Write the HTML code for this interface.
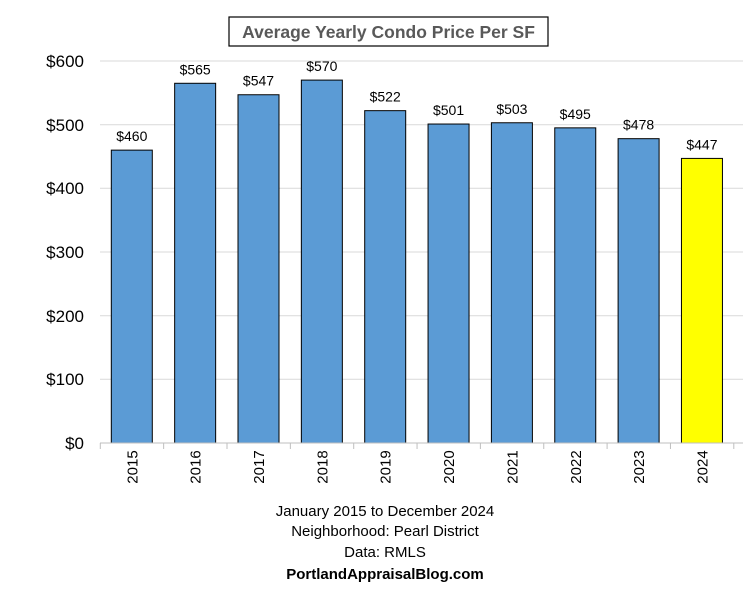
<!DOCTYPE html><html><head><style>body{margin:0;background:#fff}</style></head><body>
<svg width="749" height="600" xmlns="http://www.w3.org/2000/svg" font-family="Liberation Sans, Arial, sans-serif">
<rect x="229" y="17" width="319" height="29" fill="#fff" stroke="#000" stroke-width="1.2"/>
<text x="388.5" y="38" text-anchor="middle" font-size="17.5" font-weight="bold" fill="#595959">Average Yearly Condo Price Per SF</text>
<g stroke="#d9d9d9" stroke-width="1">
<line x1="100" x2="743" y1="61" y2="61"/><line x1="100" x2="743" y1="124.7" y2="124.7"/><line x1="100" x2="743" y1="188.3" y2="188.3"/><line x1="100" x2="743" y1="252" y2="252"/><line x1="100" x2="743" y1="315.7" y2="315.7"/><line x1="100" x2="743" y1="379.3" y2="379.3"/>
</g>
<g font-size="17" text-anchor="end" fill="#000">
<text x="84" y="67">$600</text><text x="84" y="131">$500</text><text x="84" y="194">$400</text><text x="84" y="258">$300</text><text x="84" y="322">$200</text><text x="84" y="385">$100</text><text x="84" y="449">$0</text>
</g>
<g id="bars" stroke="#000" stroke-width="1">
</g>
<line x1="100" x2="743" y1="443" y2="443" stroke="#bfbfbf"/>
<g id="ticks" stroke="#bfbfbf"></g>
<g id="lab" font-size="14" text-anchor="middle"></g>
<g font-size="15" text-anchor="middle">
<text x="385" y="516">January 2015 to December 2024</text>
<text x="385" y="536">Neighborhood: Pearl District</text>
<text x="385" y="557">Data: RMLS</text>
<text x="385" y="579" font-weight="bold">PortlandAppraisalBlog.com</text>
</g>
<script>
var v=[460,565,547,570,522,501,503,495,478,447],ns="http://www.w3.org/2000/svg";
var b=document.getElementById('bars'),t=document.getElementById('ticks'),l=document.getElementById('lab');
function el(p,n,a,txt){var e=document.createElementNS(ns,n);for(var k in a)e.setAttribute(k,a[k]);if(txt)e.textContent=txt;p.appendChild(e);}
for(var i=0;i<10;i++){var c=131.8+i*63.35,h=v[i]*382/600,y=443-h;
el(b,'rect',{x:c-20.5,y:y,width:41,height:h,fill:i==9?'#ffff00':'#5b9bd5'});
el(l,'text',{x:c,y:y-9},'$'+v[i]);
el(l,'text',{x:0,y:0,'font-size':15,transform:'translate('+(c+5.5)+',467) rotate(-90)'},String(2015+i));}
for(var i=0;i<=10;i++){var x=100.3+i*63.35;el(t,'line',{x1:x,x2:x,y1:443,y2:449});}
</script>
</svg></body></html>
